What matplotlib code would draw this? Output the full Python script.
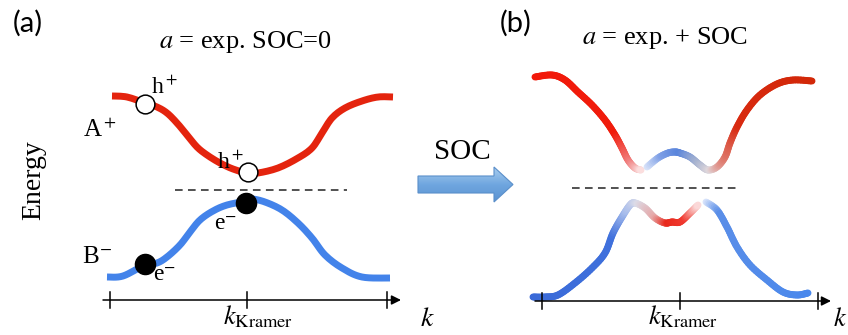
import numpy as np
import matplotlib
matplotlib.use("Agg")
import matplotlib.pyplot as plt
from matplotlib.collections import LineCollection
from matplotlib.patches import Polygon
from matplotlib.colors import to_rgb, LinearSegmentedColormap

plt.rcParams.update({
    'font.family': 'Liberation Serif',
    'mathtext.fontset': 'stix',
})

# ---- panel (a): bands without SOC (picture coords, y down) ----
red_a_x = [112, 127, 145, 157, 167, 177, 187, 197, 207, 220, 233, 247, 258, 278, 298, 312, 322, 332, 345, 362, 378, 393]
red_a_y = [96, 97, 103, 107, 113, 123, 135, 147, 155, 163, 169, 173, 173, 168, 158, 148, 133, 118, 108, 101, 97, 97]
blue_a_x = [107, 123, 145, 157, 167, 180, 190, 200, 213, 227, 246, 252, 265, 282, 298, 312, 325, 342, 362, 390]
blue_a_y = [277, 276, 265, 263, 257, 245, 232, 220, 211, 205, 201, 199, 202, 210, 223, 238, 255, 268, 277, 278]
holes_x = [145, 248]
holes_y = [104, 172]
electrons_x = [145, 246]
electrons_y = [264, 203]

# ---- panel (b): bands with SOC, split where the colour vanishes ----
up_left_x = [535, 552, 565, 578, 592, 605, 615, 622, 628, 635, 641]
up_left_y = [77, 75, 80, 92, 105, 120, 135, 148, 160, 168, 170]
up_right_x = [647, 658, 668, 675, 680, 690, 700, 708, 717, 725, 730, 737, 747, 760, 777, 793, 812]
up_right_y = [167, 158, 153, 152, 153, 157, 165, 170, 167, 157, 143, 127, 110, 95, 84, 80, 81]
lo_left_x = [533, 545, 558, 575, 592, 605, 613, 622, 630, 635, 645, 655, 665, 672, 680, 690, 698]
lo_left_y = [297, 297, 295, 283, 268, 253, 233, 217, 205, 203, 208, 218, 223, 222, 222, 213, 205]
lo_right_x = [706, 717, 727, 737, 750, 767, 783, 797, 808]
lo_right_y = [202, 210, 227, 247, 265, 280, 292, 295, 293]

# colour along k for the SOC bands
up_stop_x = [535, 615, 630, 641, 647, 662, 680, 698, 710, 722, 738, 812]
up_stop_c = ['#f2190a', '#f01c0c', '#f08080', '#fbe0e0', '#dde6fa', '#7fa0e6', '#5a85dc',
             '#a8b4d0', '#e0d8dc', '#e08a80', '#d82a10', '#d22808']
lo_stop_x = [533, 612, 626, 638, 655, 668, 685, 698, 706, 720, 808]
lo_stop_c = ['#3a6ad8', '#3f70dc', '#a8bdec', '#dcdce8', '#e6a8a8', '#e8281c', '#f03a30',
             '#fbdcdc', '#dfe8fc', '#5a8ee8', '#4a88ec']

# axis ticks (k positions)
ticks_a = [110, 247, 387]
ticks_b = [542, 680, 818]

RED_A = '#e4240e'
BLUE_A = '#4383ea'
LW = 5.0


def smooth(xs, ys, n=8):
    """Catmull-Rom pass through the read points, only for drawing."""
    p = np.column_stack([xs, ys]).astype(float)
    p = np.vstack([p[0], p, p[-1]])
    out = []
    t = np.linspace(0, 1, n, endpoint=False)[:, None]
    for i in range(1, len(p) - 2):
        p0, p1, p2, p3 = p[i - 1], p[i], p[i + 1], p[i + 2]
        out.append(0.5 * ((2 * p1) + (-p0 + p2) * t + (2 * p0 - 5 * p1 + 4 * p2 - p3) * t ** 2
                          + (-p0 + 3 * p1 - 3 * p2 + p3) * t ** 3))
    out.append(p[-2][None, :])
    out = np.vstack(out)
    return out[:, 0], out[:, 1]


def gradient_line(ax, xs, ys, stop_x, stop_c, lw):
    rgb = np.array([to_rgb(c) for c in stop_c])
    sx, sy = smooth(xs, ys)
    segs = [[(sx[i], sy[i]), (sx[i + 1], sy[i + 1])] for i in range(len(sx) - 1)]
    mid = 0.5 * (sx[:-1] + sx[1:])
    cols = np.column_stack([np.interp(mid, stop_x, rgb[:, k]) for k in range(3)])
    ax.add_collection(LineCollection(segs, colors=cols, linewidths=lw, capstyle='round'))


def k_axis(ax, x0, x1, y, ticks):
    ax.annotate('', xy=(x1, y), xytext=(x0, y),
                arrowprops=dict(arrowstyle='-|>', mutation_scale=14, lw=1.1,
                                color='black', shrinkA=0, shrinkB=0))
    for t in ticks:
        ax.plot([t, t], [y - 8, y + 8], color='black', lw=1.1)


fig = plt.figure(figsize=(8.48, 3.35), dpi=100)
ax = fig.add_axes([0, 0, 1, 1])
ax.set_xlim(0, 848)
ax.set_ylim(335, 0)
ax.axis('off')

# panel (a)
rx, ry = smooth(red_a_x, red_a_y)
bx, by = smooth(blue_a_x, blue_a_y)
ax.plot(rx, ry, color=RED_A, lw=LW, solid_capstyle='butt')
ax.plot(bx, by, color=BLUE_A, lw=LW, solid_capstyle='butt')
ax.plot(holes_x, holes_y, 'o', ms=13.5, mfc='white', mec='black', mew=1.1, zorder=5)
ax.plot(electrons_x, electrons_y, 'o', ms=14.5, mfc='black', mec='black', zorder=5)
ax.plot([175, 347], [190, 190], color='#222222', lw=1.1, dashes=(5, 3.5))
k_axis(ax, 103, 401, 300, ticks_a)

ax.text(28, 23, '(a)', family='Lato', fontsize=21, ha='center', va='center')
ax.text(245, 42, r'$a$ = exp. SOC=0', fontsize=19, ha='center', va='center')
ax.text(34, 180, 'Energy', fontsize=20, rotation=90, ha='center', va='center')
ax.text(83, 137, r'A$^+$', fontsize=18, ha='left', va='baseline')
ax.text(82, 263, r'B$^{\mathsf{-}}$', fontsize=18, ha='left', va='baseline')
ax.text(151, 94, r'h$^+$', fontsize=17, ha='left', va='baseline')
ax.text(217, 169, r'h$^+$', fontsize=17, ha='left', va='baseline')
ax.text(214, 230, r'e$^{\mathsf{-}}$', fontsize=17, ha='left', va='baseline')
ax.text(153, 281, r'e$^{\mathsf{-}}$', fontsize=17, ha='left', va='baseline')
ax.text(258, 324, r'$k_{\mathrm{Kramer}}$', fontsize=19, ha='center', va='baseline')
ax.text(420, 326, r'$k$', fontsize=20, ha='left', va='baseline')

# SOC arrow
arrow = Polygon([(418, 176), (494, 176), (494, 167), (513, 184.5), (494, 202), (494, 193), (418, 193)],
                closed=True, facecolor='none', edgecolor='#5a8fca', lw=0.8, zorder=3)
ax.add_patch(arrow)
grad = np.linspace(0, 1, 64).reshape(-1, 1)
im = ax.imshow(grad, extent=(418, 513, 202, 167), aspect='auto', zorder=2,
               cmap=LinearSegmentedColormap.from_list('arr', ['#a8cdf0', '#6fa6df', '#5b93d2']))
im.set_clip_path(arrow)
ax.text(462, 152, 'SOC', fontsize=21, ha='center', va='center')

# panel (b)
gradient_line(ax, up_left_x, up_left_y, up_stop_x, up_stop_c, LW)
gradient_line(ax, up_right_x, up_right_y, up_stop_x, up_stop_c, LW)
gradient_line(ax, lo_left_x, lo_left_y, lo_stop_x, lo_stop_c, LW)
gradient_line(ax, lo_right_x, lo_right_y, lo_stop_x, lo_stop_c, LW)
ax.plot([572, 740], [188, 188], color='#222222', lw=1.1, dashes=(5, 3.5))
k_axis(ax, 535, 831, 301, ticks_b)

ax.text(516, 23, '(b)', family='Lato', fontsize=21, ha='center', va='center')
ax.text(665, 38, r'$a$ = exp. + SOC', fontsize=19, ha='center', va='center')
ax.text(683, 324, r'$k_{\mathrm{Kramer}}$', fontsize=19, ha='center', va='baseline')
ax.text(833, 326, r'$k$', fontsize=19, ha='left', va='baseline')

fig.savefig('out.png', dpi=100)
